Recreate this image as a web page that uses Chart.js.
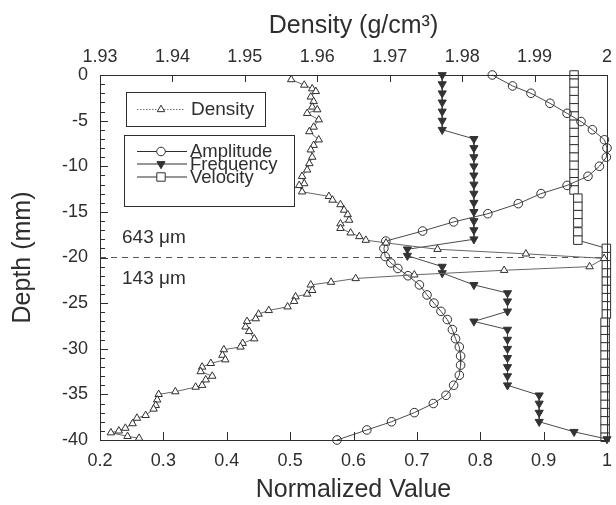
<!DOCTYPE html>
<html><head><meta charset="utf-8">
<script src="https://cdn.jsdelivr.net/npm/chart.js@4.4.1/dist/chart.umd.min.js"></script>
<style>html,body{margin:0;padding:0;background:#fff;}canvas{display:block;}</style>
</head><body>
<canvas id="c" width="616" height="505"></canvas>
<script>
// ---- tick labels ----
const normTicks = [0.2, 0.3, 0.4, 0.5, 0.6, 0.7, 0.8, 0.9, 1.0];
const normTickLabels = ['0.2', '0.3', '0.4', '0.5', '0.6', '0.7', '0.8', '0.9', '1'];
const densityTicks = [1.93, 1.94, 1.95, 1.96, 1.97, 1.98, 1.99, 2.0];
const densityTickLabels = ['1.93', '1.94', '1.95', '1.96', '1.97', '1.98', '1.99', '2'];
const depthTicks = [0, -5, -10, -15, -20, -25, -30, -35, -40];
const depthTickLabels = ['0', '-5', '-10', '-15', '-20', '-25', '-30', '-35', '-40'];

// ---- series ----
const densityDepth = [-0.5, -1.1, -1.5, -1.8, -2.4, -2.9, -3.5, -3.8, -4.2, -4.9, -5.7, -6.2, -7.1, -7.7, -8.2, -9.0, -9.7, -10.4, -11.1, -11.9, -12.1, -12.8,
  -13.3, -13.7, -14.2, -14.8, -15.3, -15.9, -16.3, -16.8, -17.3, -17.7, -18.1, -18.4, -19.1, -19.6, -20.1, -21.0, -21.4, -21.9,
  -22.3, -22.7, -23.0, -23.6, -24.0, -24.3, -24.8, -25.4, -25.8, -26.2, -26.7, -27.0, -27.6, -28.1, -28.9, -29.4, -29.8,
  -30.1, -30.7, -31.2, -31.6, -32.0, -32.5, -33.0, -33.4, -34.0, -34.2, -34.7, -35.0, -35.6, -36.2, -36.6, -37.3, -37.6,
  -38.2, -38.7, -39.0, -39.2, -39.6, -39.8];
const densityValue = [1.9564, 1.9582, 1.9593, 1.9598, 1.9591, 1.9595, 1.9593, 1.9600, 1.9586, 1.9602, 1.9595, 1.9589, 1.9602, 1.9595, 1.9591, 1.9593, 1.9589, 1.9586, 1.9579, 1.9582, 1.9575, 1.9579,
  1.9616, 1.9621, 1.9632, 1.9637, 1.9642, 1.9644, 1.9632, 1.9632, 1.9646, 1.9658, 1.9667, 1.9695, 1.9766, 1.9888, 1.9996, 1.9976, 1.9858, 1.9734,
  1.9653, 1.9619, 1.9591, 1.9593, 1.9586, 1.9570, 1.9568, 1.9559, 1.9533, 1.9519, 1.9515, 1.9503, 1.9501, 1.9506, 1.9513, 1.9497, 1.9494,
  1.9471, 1.9469, 1.9473, 1.9453, 1.9441, 1.9439, 1.9455, 1.9446, 1.9441, 1.9432, 1.9404, 1.9381, 1.9379, 1.9377, 1.9374, 1.9363, 1.9351,
  1.9345, 1.9335, 1.9326, 1.9315, 1.9338, 1.9354];

const amplitudeDepth = [0, -1.2, -2.0, -3.1, -4.2, -5.1, -6.0, -7.1, -8.0, -9.0, -10.0, -11.1, -12.1, -13.0, -14.1, -15.2, -16.1, -17.1,
  -18.2, -19.0, -19.9, -20.6, -21.2, -22.0, -23.0, -24.1, -25.0, -25.9, -26.8, -27.9, -28.9, -29.8, -30.8, -31.8, -32.9, -34.0,
  -35.1, -36.0, -37.0, -38.0, -38.9, -40.0];
const amplitudeValue = [0.819, 0.851, 0.880, 0.910, 0.937, 0.959, 0.977, 0.996, 1.0, 0.999, 0.988, 0.970, 0.937, 0.896, 0.860, 0.812, 0.758, 0.709,
  0.651, 0.648, 0.650, 0.659, 0.670, 0.686, 0.704, 0.716, 0.727, 0.738, 0.748, 0.756, 0.761, 0.767, 0.769, 0.769, 0.767, 0.758,
  0.746, 0.726, 0.696, 0.660, 0.621, 0.574];

const frequencyDepth = [0, -1, -2, -3, -4, -5, -6, -7, -8, -9, -10, -11, -12, -13, -14, -15, -16, -17, -18,
  -19.1, -19.8, -21.0, -21.7, -23.0, -23.9, -24.8, -25.9, -27.0, -27.9, -29, -30, -31, -32, -33, -34, -35.1, -36, -37, -38, -39.1, -39.9];
const frequencyValue = [0.740, 0.740, 0.740, 0.740, 0.740, 0.740, 0.740, 0.790, 0.790, 0.790, 0.790, 0.790, 0.790, 0.790, 0.790, 0.790, 0.790, 0.790, 0.790,
  0.685, 0.685, 0.740, 0.740, 0.790, 0.843, 0.843, 0.843, 0.790, 0.843, 0.843, 0.843, 0.843, 0.843, 0.843, 0.843, 0.893, 0.893, 0.893, 0.893, 0.948, 1.0];

const velocityDepth = [0, -0.9, -1.8, -2.7, -3.6, -4.5, -5.4, -6.3, -7.2, -8.1, -9.0, -9.9, -10.8, -11.7, -12.6,
  -13.5, -14.4, -15.3, -16.2, -17.2, -18.1,
  -19.0, -19.9, -20.8, -21.7, -22.6, -23.5, -24.4, -25.3, -26.2, -27.1, -28.0, -28.9, -29.8, -30.7, -31.6, -32.5, -33.4, -34.3,
  -35.2, -36.1, -37.0, -37.9, -38.8, -39.7];
const velocityValue = [0.948, 0.948, 0.948, 0.948, 0.948, 0.948, 0.948, 0.948, 0.948, 0.948, 0.948, 0.948, 0.948, 0.948, 0.948,
  0.954, 0.954, 0.954, 0.954, 0.954, 0.954,
  0.999, 0.999, 0.999, 0.999, 0.999, 0.999, 0.999, 0.999, 0.999, 0.997, 0.997, 0.997, 0.997, 0.997, 0.997, 0.997, 0.997, 0.997,
  0.997, 0.997, 0.997, 0.997, 0.997, 0.997];

const boundaryDepth = -20;
const upperLayerLabel = '643 \u03bcm';
const lowerLayerLabel = '143 \u03bcm';

// ---- build ----
const pts = (ys, xs) => ys.map((y, i) => ({ x: xs[i], y }));
const INK = '#2e2e2e';
const LINE = '#4a4a4a';
const FONT = "'Liberation Sans', Arial, Helvetica, sans-serif";
Chart.defaults.font.family = FONT;
Chart.defaults.color = INK;

const common = { showLine: true, clip: false, borderWidth: 1, pointBorderWidth: 1, pointHoverRadius: 0 };

const datasets = [
  Object.assign({}, common, {
    label: 'Boundary', data: [{ x: normTicks[0], y: boundaryDepth }, { x: normTicks[normTicks.length - 1], y: boundaryDepth }],
    borderColor: '#555', borderDash: [6, 5], pointRadius: 0, xAxisID: 'x', order: 5
  }),
  Object.assign({}, common, {
    label: 'Velocity', data: pts(velocityDepth, velocityValue), xAxisID: 'x',
    borderColor: LINE, pointStyle: 'rect', pointRadius: 6, pointBackgroundColor: '#fff', pointBorderColor: INK, order: 4
  }),
  Object.assign({}, common, {
    label: 'Amplitude', data: pts(amplitudeDepth, amplitudeValue), xAxisID: 'x',
    borderColor: LINE, pointStyle: 'circle', pointRadius: 4.3, pointBackgroundColor: 'rgba(255,255,255,0)', pointBorderColor: INK, order: 3
  }),
  Object.assign({}, common, {
    label: 'Frequency', data: pts(frequencyDepth, frequencyValue), xAxisID: 'x',
    borderColor: LINE, pointStyle: 'triangle', pointRotation: 180, pointRadius: 4.7, pointBackgroundColor: '#333', pointBorderColor: '#333', order: 2
  }),
  Object.assign({}, common, {
    label: 'Density', data: pts(densityDepth, densityValue), xAxisID: 'x2',
    borderColor: '#666', pointStyle: 'triangle', pointRadius: 4.3, pointBackgroundColor: '#fff', pointBorderColor: INK, order: 1
  })
];

function drawMarker(ctx, style, x, y) {
  ctx.save();
  ctx.lineWidth = 1; ctx.strokeStyle = INK;
  ctx.beginPath();
  if (style === 'circle') { ctx.arc(x, y, 4.3, 0, Math.PI * 2); ctx.fillStyle = '#fff'; ctx.fill(); ctx.stroke(); }
  else if (style === 'rect') { ctx.rect(x - 4.2, y - 4.2, 8.4, 8.4); ctx.fillStyle = '#fff'; ctx.fill(); ctx.stroke(); }
  else if (style === 'tri') { const r = 4.3; ctx.moveTo(x, y - r); ctx.lineTo(x + r * 0.866, y + r / 2); ctx.lineTo(x - r * 0.866, y + r / 2); ctx.closePath(); ctx.fillStyle = '#fff'; ctx.fill(); ctx.stroke(); }
  else if (style === 'dtri') { const r = 4.7; ctx.moveTo(x, y + r); ctx.lineTo(x + r * 0.866, y - r / 2); ctx.lineTo(x - r * 0.866, y - r / 2); ctx.closePath(); ctx.fillStyle = '#333'; ctx.fill(); ctx.stroke(); }
  ctx.restore();
}

const framePlugin = {
  id: 'framePlugin',
  afterDatasetsDraw(chart) {
    const { ctx, chartArea: a, scales } = chart;
    ctx.save();
    ctx.strokeStyle = INK; ctx.lineWidth = 1;
    ctx.strokeRect(Math.round(a.left) + 0.5, Math.round(a.top) + 0.5, Math.round(a.right - a.left), Math.round(a.bottom - a.top));
    ctx.beginPath();
    normTicks.forEach(v => { const x = Math.round(scales.x.getPixelForValue(v)) + 0.5; ctx.moveTo(x, a.bottom); ctx.lineTo(x, a.bottom - 8); });
    densityTicks.forEach(v => { const x = Math.round(scales.x2.getPixelForValue(v)) + 0.5; ctx.moveTo(x, a.top); ctx.lineTo(x, a.top + 7); });
    for (let d = depthTicks[depthTicks.length - 1]; d <= depthTicks[0]; d++) {
      const y = Math.round(scales.y.getPixelForValue(d)) + 0.5;
      ctx.moveTo(a.left, y); ctx.lineTo(a.left + (d % 5 === 0 ? 8 : 5), y);
    }
    ctx.stroke();

    // layer labels
    const yb = scales.y.getPixelForValue(boundaryDepth);
    ctx.fillStyle = INK; ctx.font = '19px ' + FONT; ctx.textBaseline = 'middle'; ctx.textAlign = 'left';
    ctx.fillText(upperLayerLabel, a.left + 22, yb - 20);
    ctx.fillText(lowerLayerLabel, a.left + 22, yb + 21);

    // legends
    const L = a.left;
    ctx.strokeRect(L + 26.5, 92.5, 139, 34);
    ctx.strokeRect(L + 24.5, 135.5, 170, 71);
    ctx.save(); ctx.strokeStyle = '#777'; ctx.setLineDash([1.5, 1.5]);
    ctx.beginPath(); ctx.moveTo(L + 37, 109.5); ctx.lineTo(L + 85, 109.5); ctx.stroke(); ctx.restore();
    drawMarker(ctx, 'tri', L + 61, 109.5);
    ctx.fillText('Density', L + 91, 110);
    ctx.font = '18.5px ' + FONT;
    const rows = [['circle', 'Amplitude', 151], ['dtri', 'Frequency', 163.5], ['rect', 'Velocity', 176.5]];
    rows.forEach(([s, t, y]) => {
      ctx.beginPath(); ctx.moveTo(L + 37, y + 0.5); ctx.lineTo(L + 87, y + 0.5); ctx.stroke();
      drawMarker(ctx, s, L + 61, y + 0.5);
      ctx.fillText(t, L + 90, y + 1);
    });
    ctx.restore();
  }
};

const zeroPad = s => { s.paddingLeft = 0; s.paddingRight = 0; s.paddingTop = 0; s.paddingBottom = 0; };

new Chart(document.getElementById('c'), {
  type: 'scatter',
  data: { datasets },
  plugins: [framePlugin],
  options: {
    responsive: false, animation: false, devicePixelRatio: 1,
    layout: { padding: { left: 0, right: 9, top: 0, bottom: 0 } },
    plugins: { legend: { display: false }, tooltip: { enabled: false } },
    scales: {
      x: {
        type: 'linear', position: 'bottom', min: 0.2, max: 1.0,
        afterBuildTicks: s => { s.ticks = normTicks.map(v => ({ value: v })); },
        ticks: { callback: (v, i) => normTickLabels[i], font: { size: 18 }, padding: 10, maxRotation: 0, color: INK },
        grid: { display: false, drawTicks: false }, border: { display: false },
        title: { display: true, text: 'Normalized Value', font: { size: 25 }, padding: { top: 0, bottom: 0 }, color: INK },
        afterFit: s => { s.height = 65; zeroPad(s); }
      },
      x2: {
        type: 'linear', position: 'top', min: 1.93, max: 2.0,
        afterBuildTicks: s => { s.ticks = densityTicks.map(v => ({ value: v })); },
        ticks: { callback: (v, i) => densityTickLabels[i], font: { size: 18 }, padding: 7, maxRotation: 0, color: INK },
        grid: { display: false, drawTicks: false }, border: { display: false },
        title: { display: true, text: 'Density (g/cm\u00b3)', font: { size: 25 }, padding: { top: 11, bottom: 0 }, color: INK },
        afterFit: s => { s.height = 75; zeroPad(s); }
      },
      y: {
        type: 'linear', position: 'left', min: -40, max: 0,
        afterBuildTicks: s => { s.ticks = depthTicks.map(v => ({ value: v })); },
        ticks: { callback: (v, i) => depthTickLabels[i], font: { size: 18 }, padding: 12, color: INK },
        grid: { display: false, drawTicks: false }, border: { display: false },
        title: { display: true, text: 'Depth (mm)', font: { size: 25 }, padding: { top: 8, bottom: 0 }, color: INK },
        afterFit: s => { s.width = 100; zeroPad(s); }
      }
    }
  }
});
</script>
</body></html>
